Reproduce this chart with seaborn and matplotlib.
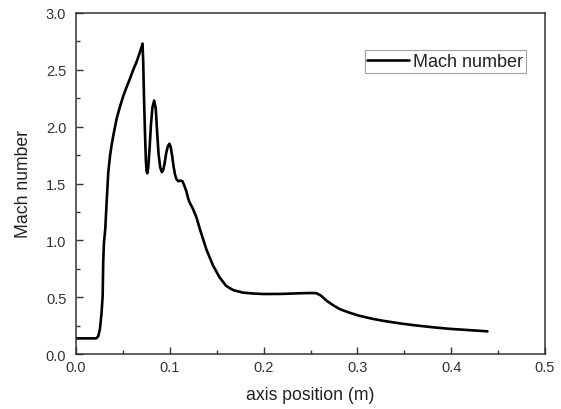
import matplotlib
matplotlib.use("Agg")
import matplotlib.pyplot as plt
import pandas as pd
import seaborn as sns

# values
axis_pos = [0.0, 0.0100, 0.0200, 0.0220, 0.0238, 0.0255, 0.0272, 0.0284,
            0.0290, 0.0298, 0.0312, 0.0326, 0.0344, 0.0362, 0.0380, 0.0397,
            0.0433, 0.0470, 0.0504, 0.0540, 0.0574, 0.0610, 0.0646, 0.0675,
            0.0699, 0.0709, 0.0716, 0.0725, 0.0735, 0.0745, 0.0752, 0.0760,
            0.0770, 0.0785, 0.0800, 0.0815, 0.0833, 0.0850, 0.0865, 0.0880,
            0.0898, 0.0915, 0.0930, 0.0945, 0.0962, 0.0980, 0.0996, 0.1010,
            0.1025, 0.1040, 0.1055, 0.1070, 0.1090, 0.1115, 0.1135, 0.1155,
            0.1177, 0.1195, 0.1213, 0.1245, 0.1285, 0.1320, 0.1390, 0.1460,
            0.1530, 0.1600, 0.1674, 0.1780, 0.1900, 0.2000, 0.2200, 0.2400,
            0.2500, 0.2560, 0.2610, 0.2670, 0.2740, 0.2810, 0.2900, 0.3020,
            0.3150, 0.3270, 0.3450, 0.3620, 0.3800, 0.3980, 0.4200, 0.4386]
mach = [0.138, 0.138, 0.138, 0.140, 0.160, 0.220, 0.360, 0.510,
        0.810, 0.980, 1.100, 1.330, 1.600, 1.740, 1.840, 1.920,
        2.070, 2.180, 2.270, 2.350, 2.420, 2.500, 2.570, 2.640,
        2.700, 2.730, 2.580, 2.250, 1.950, 1.700, 1.610, 1.590,
        1.640, 1.820, 2.030, 2.170, 2.230, 2.160, 1.950, 1.760,
        1.640, 1.600, 1.620, 1.680, 1.770, 1.830, 1.850, 1.820,
        1.740, 1.650, 1.580, 1.540, 1.520, 1.525, 1.520, 1.480,
        1.430, 1.370, 1.330, 1.280, 1.200, 1.100, 0.920, 0.780,
        0.675, 0.600, 0.563, 0.540, 0.532, 0.528, 0.529, 0.535,
        0.537, 0.536, 0.515, 0.470, 0.430, 0.396, 0.368, 0.337,
        0.312, 0.293, 0.270, 0.252, 0.236, 0.222, 0.210, 0.200]

df = pd.DataFrame({"axis position (m)": axis_pos, "Mach number": mach})

sns.set_style("ticks")
plt.rcParams["font.family"] = ["Liberation Sans", "DejaVu Sans"]

fig = plt.figure(figsize=(5.61, 4.10), dpi=100)
ax = fig.add_axes([0.1355, 0.134, 0.836, 0.832])

sns.lineplot(data=df, x="axis position (m)", y="Mach number", ax=ax,
             color="black", linewidth=1.9, label="Mach number", sort=False)

ax.set_xlim(0, 0.5)
ax.set_ylim(0, 3.0)
ax.set_xticks([0.0, 0.1, 0.2, 0.3, 0.4, 0.5])
ax.set_yticks([0.0, 0.5, 1.0, 1.5, 2.0, 2.5, 3.0])
ax.set_xticks([0.05, 0.15, 0.25, 0.35, 0.45], minor=True)
ax.set_yticks([0.25, 0.75, 1.25, 1.75, 2.25, 2.75], minor=True)
ax.set_xticklabels(["0.0", "0.1", "0.2", "0.3", "0.4", "0.5"])
ax.set_yticklabels(["0.0", "0.5", "1.0", "1.5", "2.0", "2.5", "3.0"])
ax.tick_params(axis="y", which="major", pad=7)
ax.tick_params(axis="x", which="major", pad=4)
ax.tick_params(which="major", direction="in", length=5, width=1, labelsize=10.5,
               colors="#333333")
ax.tick_params(which="minor", direction="in", length=3, width=1, colors="#333333")
for s in ax.spines.values():
    s.set_visible(True)
    s.set_color("#333333")
    s.set_linewidth(1.1)

ax.set_xlabel("axis position (m)", fontsize=12.7, color="#222222", labelpad=9)
ax.set_ylabel("Mach number", fontsize=12.7, color="#222222", labelpad=10)

leg = ax.legend(loc="upper right", bbox_to_anchor=(0.9595, 0.891), fontsize=13,
                frameon=True, fancybox=False, borderpad=0.15, handlelength=2.3,
                handletextpad=0.25, borderaxespad=0)
leg.get_frame().set_edgecolor("#888888")
leg.get_frame().set_linewidth(0.8)
for t in leg.get_texts():
    t.set_color("#222222")

fig.savefig("out.png", dpi=100)
